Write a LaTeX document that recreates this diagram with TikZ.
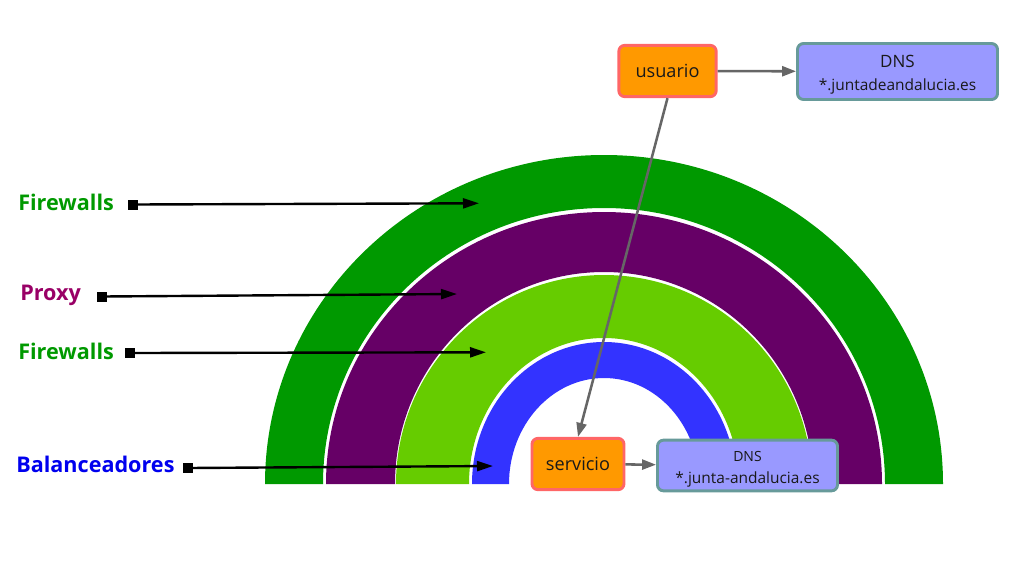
\documentclass[tikz,border=0pt]{standalone}
\usepackage{fontspec}
\setmainfont{Open Sans}
\usetikzlibrary{arrows.meta,positioning}
\definecolor{ringgreen}{HTML}{009900}
\definecolor{ringpurple}{HTML}{660066}
\definecolor{ringlime}{HTML}{66CC00}
\definecolor{ringblue}{HTML}{3333FF}
\definecolor{proxytext}{HTML}{990066}
\definecolor{balancetext}{HTML}{0000EE}
\definecolor{hostfill}{HTML}{FF9900}
\definecolor{hostdraw}{HTML}{FF6666}
\definecolor{dnsfill}{HTML}{9999FF}
\definecolor{dnsdraw}{HTML}{679A9A}
\definecolor{linkgray}{HTML}{666666}
\tikzset{
  layer/.style={font=\fontsize{16.2}{19}\selectfont\bfseries,anchor=base west,inner sep=0pt},
  marker/.style={rectangle,fill=black,minimum size=7.5pt,inner sep=0pt},
  pointer/.style={-{Triangle[length=12pt,width=7.5pt]},line width=1.8pt},
  host/.style={rectangle,rounded corners=4.5pt,draw=hostdraw,line width=2.2pt,fill=hostfill,
    minimum height=38.5pt,align=center,text=black!90,font=\fontsize{13.6}{16}\selectfont},
  dns/.style={rectangle,rounded corners=4.5pt,draw=dnsdraw,line width=2.2pt,fill=dnsfill,
    align=center,text=black!90,inner sep=0pt},
  link/.style={-{Triangle[length=10.5pt,width=7.5pt]},line width=1.9pt,draw=linkgray}
}

\begin{document}
\begin{tikzpicture}[x=0.75pt,y=-0.75pt]
  \useasboundingbox (0,0) rectangle (1024,576);
  % rings, outer to inner
  \fill[ringgreen] (943,484) arc[start angle=0,end angle=-180,x radius=339,y radius=329]
    -- (323,484) arc[start angle=180,end angle=360,x radius=281,y radius=276] -- cycle;
  \fill[ringpurple] (882,484) arc[start angle=0,end angle=-180,x radius=278,y radius=272]
    -- (395,484) arc[start angle=180,end angle=360,x radius=209,y radius=212] -- cycle;
  \fill[ringlime] (812,484) arc[start angle=0,end angle=-180,x radius=208,y radius=209]
    -- (469,484) arc[start angle=180,end angle=360,x radius=135,y radius=146] -- cycle;
  \fill[ringblue] (736,484) arc[start angle=0,end angle=-180,x radius=132,y radius=142]
    -- (509,484) arc[start angle=180,end angle=360,x radius=95,y radius=106] -- cycle;

  % layer labels
  \node[layer,text=ringgreen] (fwOuter) at (18,210.7) {Firewalls};
  \node[layer,text=proxytext] (proxy) at (20,300.7) {Proxy};
  \node[layer,text=ringgreen] (fwInner) at (18,359.3) {Firewalls};
  \node[layer,text=balancetext] (balancer) at (16,472.3) {Balanceadores};

  \node[marker] (fwOuterSq) at (133,204.5) {};
  \node[marker] (proxySq) at (102,296.5) {};
  \node[marker] (fwInnerSq) at (130,353) {};
  \node[marker] (balancerSq) at (188,468) {};
  \coordinate (fwOuterTip) at (479,203.3);
  \coordinate (proxyTip) at (457,294);
  \coordinate (fwInnerTip) at (486,352.3);
  \coordinate (balancerTip) at (493,466);
  \draw[pointer] (fwOuterSq.center) -- (fwOuterTip);
  \draw[pointer] (proxySq.center) -- (proxyTip);
  \draw[pointer] (fwInnerSq.center) -- (fwInnerTip);
  \draw[pointer] (balancerSq.center) -- (balancerTip);

  % hosts and name servers
  \node[host,minimum width=73pt] (usuario) at (667.5,71) {usuario};
  \node[dns,minimum width=150pt,minimum height=42pt] (dnsTop) at (897.5,71.5)
    {\fontsize{12.75}{15}\selectfont\rule{0pt}{14.3pt}DNS\\[5pt]\fontsize{11.6}{14}\selectfont *.juntadeandalucia.es};
  \node[host,minimum width=69pt] (servicio) at (578,464) {servicio};
  \node[dns,minimum width=135pt,minimum height=38pt] (dnsBottom) at (747.5,465.5)
    {\fontsize{10.5}{13}\selectfont\rule{0pt}{13.5pt}DNS\\[5pt]\fontsize{11.6}{14}\selectfont *.junta-andalucia.es};

  \draw[link] (usuario) -- (dnsTop);
  \draw[link] (usuario.south) -- (servicio.north);
  \draw[link] (servicio) -- (dnsBottom);
\end{tikzpicture}
\end{document}
